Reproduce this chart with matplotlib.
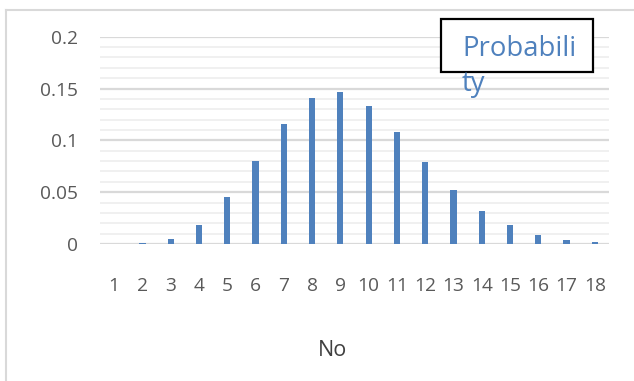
import matplotlib
matplotlib.use("Agg")
import matplotlib.pyplot as plt
import numpy as np
from matplotlib.ticker import MultipleLocator
from matplotlib.patches import Rectangle
from matplotlib.lines import Line2D

categories = [str(i) for i in range(1, 19)]
probability = [0.0003, 0.0008, 0.0048, 0.0183, 0.0453, 0.0798, 0.1160, 0.1410,
               0.1465, 0.1330, 0.1080, 0.0790, 0.0525, 0.0315, 0.0180, 0.0083,
               0.0043, 0.0022]
y_ticks = [0, 0.05, 0.1, 0.15, 0.2]
y_tick_labels = ["0", "0.05", "0.1", "0.15", "0.2"]
title_lines = ["Probabili", "ty"]
x_title = "No"

W, H = 634, 381
fig = plt.figure(figsize=(W / 100, H / 100), dpi=100)
fig.patch.set_facecolor("white")

plt.rcParams["font.family"] = ["Open Sans", "DejaVu Sans"]

ax = fig.add_axes([100 / W, (H - 244) / H, 509 / W, 207.3 / H])
x = np.arange(len(categories))
ax.bar(x, probability, width=0.22, color="#4F81BD", zorder=3)
ax.set_xlim(-0.5, len(categories) - 0.5)
ax.set_ylim(0, 0.2)

ax.set_xticks(x)
ax.set_xticklabels(categories)
ax.set_yticks(y_ticks)
ax.set_yticklabels(y_tick_labels)
ax.yaxis.set_minor_locator(MultipleLocator(0.01))
ax.tick_params(axis="both", which="both", length=0, colors="#595959")
ax.tick_params(axis="y", which="major", labelsize=13.8, pad=16)
ax.tick_params(axis="x", which="major", labelsize=13.8, pad=24)
ax.grid(axis="y", which="minor", color="#f0f0f0", lw=1.4, zorder=0)
ax.grid(axis="y", which="major", color="#d9d9d9", lw=1.6, zorder=1)
ax.grid(axis="x", visible=False)
for s in ax.spines.values():
    s.set_visible(False)

ax.set_xlabel(x_title, fontsize=15.5, color="#404040")
ax.xaxis.set_label_coords((332 - 100) / 509, (244 - 351) / 207.3)
ax.xaxis.label.set_va("center")

# outer chart frame (extends beyond the image on right/bottom)
fig.add_artist(Line2D([6 / W, 6 / W], [0, (H - 10) / H], color="#d9d9d9", lw=1.5,
                      transform=fig.transFigure))
fig.add_artist(Line2D([6 / W, 1], [(H - 10) / H, (H - 10) / H], color="#d9d9d9", lw=1.5,
                      transform=fig.transFigure))

# title box
box = Rectangle((441 / W, (H - 72) / H), 152 / W, 53 / H, transform=fig.transFigure,
                facecolor="white", edgecolor="black", lw=1.6, zorder=10)
fig.add_artist(box)
fig.text(462 / W, (H - 55.7) / H, title_lines[0], fontsize=19.8, color="#4F81BD",
         va="baseline", ha="left", zorder=11)
fig.text(462 / W, (H - 91.5) / H, title_lines[1], fontsize=19.8, color="#4F81BD",
         va="baseline", ha="left", zorder=11)

fig.savefig("out.png", dpi=100)
